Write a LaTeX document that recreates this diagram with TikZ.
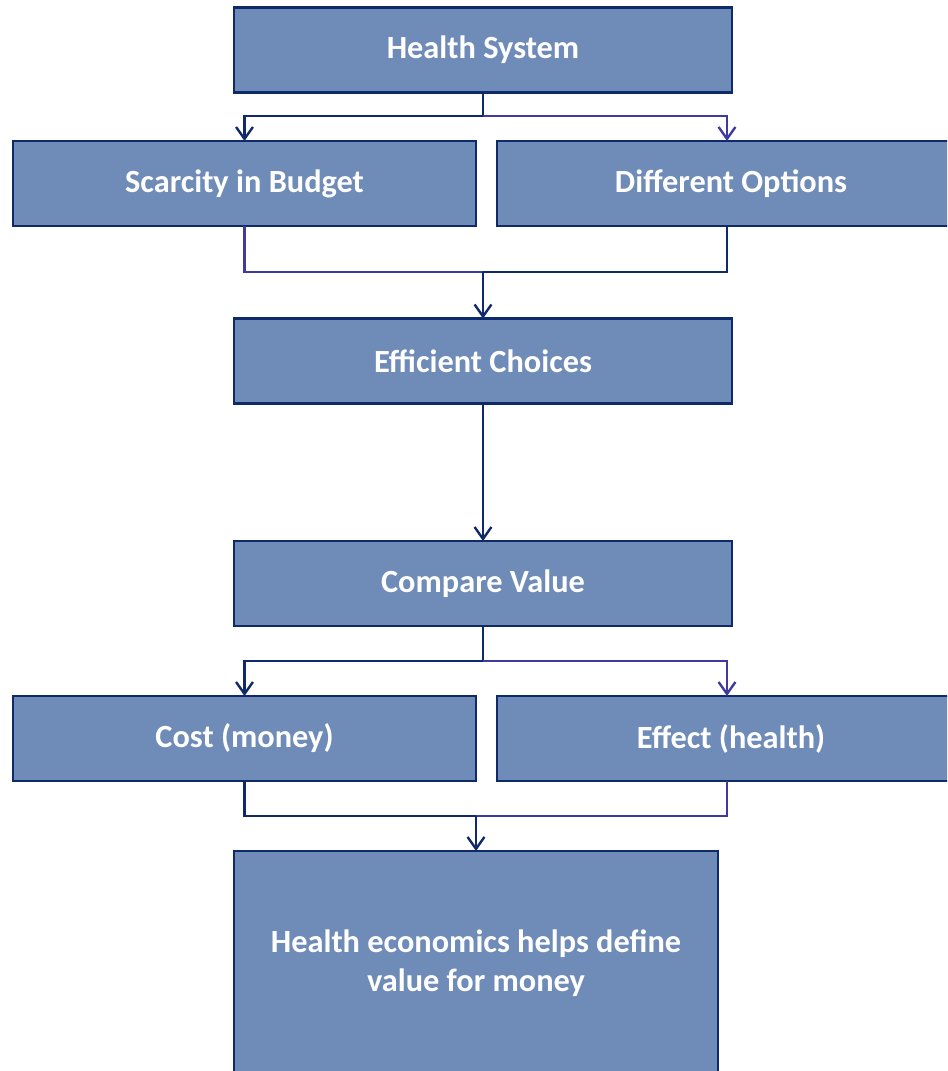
\documentclass[tikz,border=0pt]{standalone}
\usepackage{fontspec}
\setmainfont{Carlito}
\usetikzlibrary{arrows.meta}
\definecolor{boxfill}{HTML}{6F8BB8}
\definecolor{navyline}{HTML}{0E2A6A}
\definecolor{violetline}{HTML}{3F3AA0}
\begin{document}
\begin{tikzpicture}[x=0.025cm,y=-0.025cm,
    flowbox/.style={draw=navyline,line width=1.9pt,fill=boxfill,text=white,
        font=\fontsize{23}{28}\selectfont\bfseries,align=center,
        minimum height=2.125cm,inner sep=0pt,outer sep=0pt},
    wide/.style={flowbox,minimum width=12.45cm},
    half/.style={flowbox,minimum width=11.575cm},
    link/.style={line width=1.7pt,draw=navyline},
    altlink/.style={line width=1.7pt,draw=violetline},
    tip/.style={-{Straight Barb[length=8.5pt,width=12pt,line width=1.7pt]}}]
\useasboundingbox (0,0) rectangle (947,1071);
\clip (0,0) rectangle (947,1071);
    % boxes
    \node[wide] (hs) at (483,50) {Health System};
    \node[half] (sb) at (244.5,183.5) {Scarcity in Budget};
    \node[half,minimum width=11.7cm] (do) at (731,183.5) {Different Options};
    \node[wide] (ec) at (483,361) {Efficient Choices};
    \node[wide] (cv) at (483,583.5) {Compare Value};
    \node[half] (cm) at (244.5,738.5) {Cost (money)};
    \node[half,minimum width=11.7cm] (eh) at (731,738.5) {Effect (health)};
    \node[flowbox,minimum width=12.1cm,minimum height=5.6cm] (he) at (476,963)
        {Health economics helps define\\value for money};
    % junctions
    \coordinate (j1) at (483,116);
    \coordinate (j2) at (483,272);
    \coordinate (j3) at (483,661);
    \coordinate (j4) at (476,816);
    % connectors
    \draw[link] (hs.south) -- (j1);
    \draw[link,tip] (j1) -| (sb.north);
    \draw[altlink,tip] (j1) -| ([xshift=-0.1cm]do.north);
    \draw[altlink] (sb.south) |- (j2);
    \draw[link] ([xshift=-0.1cm]do.south) |- (j2);
    \draw[link,tip] (j2) -- (ec.north);
    \draw[link,tip] (ec.south) -- (cv.north);
    \draw[link] (cv.south) -- (j3);
    \draw[link,tip] (j3) -| (cm.north);
    \draw[altlink,tip] (j3) -| ([xshift=-0.1cm]eh.north);
    \draw[link] (cm.south) |- (j4);
    \draw[altlink] ([xshift=-0.1cm]eh.south) |- (j4);
    \draw[link,tip] (j4) -- (he.north);
\end{tikzpicture}
\end{document}
